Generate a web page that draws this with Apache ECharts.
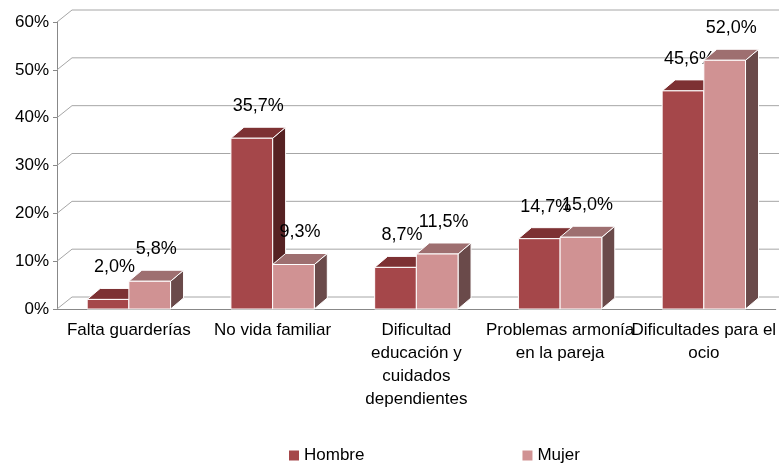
<!DOCTYPE html>
<html>
<head>
<meta charset="utf-8">
<script src="https://cdn.jsdelivr.net/npm/echarts@6/dist/echarts.min.js"></script>
<style>
  html, body { margin: 0; padding: 0; background: #fff; }
  #chart { width: 779px; height: 463px; }
</style>
</head>
<body>
<div id="chart"></div>
<script>
const categories = [
  'Falta guarderías',
  'No vida familiar',
  'Dificultad\neducación y\ncuidados\ndependientes',
  'Problemas armonía\nen la pareja',
  'Dificultades para el\nocio'
];
const hombre = [2.0, 35.7, 8.7, 14.7, 45.6];
const mujer = [5.8, 9.3, 11.5, 15.0, 52.0];
const yTicks = [0, 10, 20, 30, 40, 50, 60];

// 3D look
const FLOOR_DX = 15, FLOOR_DY = -12;
const BAR_DX = 13, BAR_DY = -11;
const BAR_RATIO = 0.29;

const hombreColors = { front: '#A5474A', top: '#7D3133', side: '#562223' };
const mujerColors = { front: '#D09293', top: '#9E6F70', side: '#6A4A4A' };

const fmt = v => v.toFixed(1).replace('.', ',') + '%';

function barRenderer(left, c) {
  return function (params, api) {
    const cat = api.value(0), v = api.value(1);
    const w = api.size([1, 0])[0] * BAR_RATIO;
    const base = api.coord([cat, 0]);
    const top = api.coord([cat, v]);
    const x0 = left ? base[0] - w : base[0];
    const x1 = x0 + w;
    const y0 = base[1], y1 = top[1];
    const stroke = { stroke: '#fff', lineWidth: 1 };
    return {
      type: 'group',
      children: [
        { type: 'polygon', shape: { points: [[x1, y1], [x1 + BAR_DX, y1 + BAR_DY], [x1 + BAR_DX, y0 + BAR_DY], [x1, y0]] },
          style: Object.assign({ fill: c.side }, stroke) },
        { type: 'polygon', shape: { points: [[x0, y1], [x1, y1], [x1 + BAR_DX, y1 + BAR_DY], [x0 + BAR_DX, y1 + BAR_DY]] },
          style: Object.assign({ fill: c.top }, stroke) },
        { type: 'rect', shape: { x: x0, y: y1, width: w, height: y0 - y1 },
          style: Object.assign({ fill: c.front }, stroke) },
        { type: 'text', x: (x0 + x1) / 2 + BAR_DX / 2, y: y1 - 32,
          style: { text: fmt(v), fill: '#000', fontSize: 18, fontFamily: 'Liberation Sans', align: 'center', verticalAlign: 'middle' } }
      ]
    };
  };
}

function gridRenderer(params, api) {
  const cs = params.coordSys;
  const children = [];
  yTicks.forEach(t => {
    const y = api.coord([0, t])[1];
    children.push({ type: 'line', shape: { x1: cs.x, y1: y, x2: cs.x + FLOOR_DX, y2: y + FLOOR_DY },
      style: { stroke: '#A6A6A6', lineWidth: 1 } });
    children.push({ type: 'line', shape: { x1: cs.x + FLOOR_DX, y1: y + FLOOR_DY, x2: cs.x + cs.width + FLOOR_DX, y2: y + FLOOR_DY },
      style: { stroke: '#A6A6A6', lineWidth: 1 } });
  });
  return { type: 'group', children: children };
}

const chart = echarts.init(document.getElementById('chart'));

chart.setOption({
  animation: false,
  backgroundColor: '#fff',
  textStyle: { fontFamily: 'Liberation Sans' },
  legend: {
    data: ['Hombre', 'Mujer'],
    left: 284,
    top: 442,
    icon: 'rect',
    itemWidth: 10,
    itemHeight: 10,
    itemGap: 158,
    textStyle: { fontSize: 17, color: '#000' }
  },
  grid: { left: 57, right: 2, top: 22, bottom: 154 },
  xAxis: {
    type: 'category',
    data: categories,
    axisLine: { lineStyle: { color: '#888' } },
    axisTick: { length: 5, lineStyle: { color: '#888' } },
    axisLabel: { fontSize: 17, color: '#000', lineHeight: 23, margin: 10, interval: 0 }
  },
  yAxis: {
    type: 'value',
    min: 0,
    max: 60,
    interval: 10,
    axisLine: { show: true, lineStyle: { color: '#888' } },
    axisTick: { show: true, length: 4, lineStyle: { color: '#888' } },
    axisLabel: { formatter: '{value}%', fontSize: 17, color: '#000', margin: 8 },
    splitLine: { show: false }
  },
  series: [
    {
      type: 'custom',
      name: 'grid',
      z: 1,
      renderItem: gridRenderer,
      data: [[0, 0]],
      silent: true
    },
    {
      type: 'custom',
      name: 'Hombre',
      z: 2,
      itemStyle: { color: hombreColors.front },
      renderItem: barRenderer(true, hombreColors),
      encode: { x: 0, y: 1 },
      data: hombre.map((v, i) => [i, v])
    },
    {
      type: 'custom',
      name: 'Mujer',
      z: 2,
      itemStyle: { color: mujerColors.front },
      renderItem: barRenderer(false, mujerColors),
      encode: { x: 0, y: 1 },
      data: mujer.map((v, i) => [i, v])
    }
  ]
});
</script>
</body>
</html>
